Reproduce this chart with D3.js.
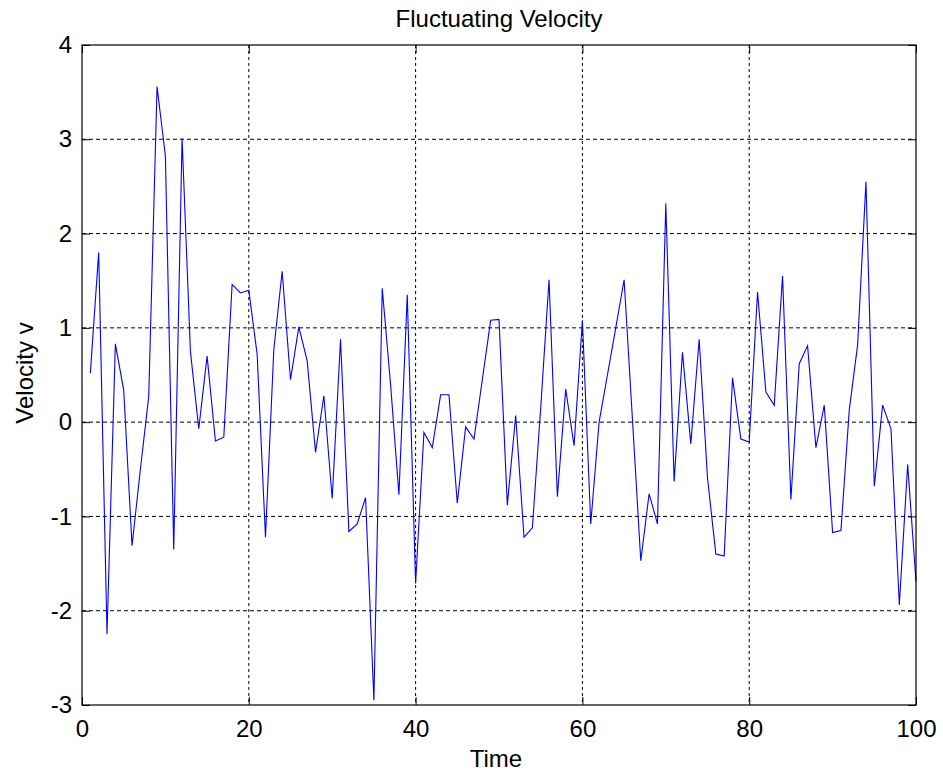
<!DOCTYPE html>
<html>
<head>
<meta charset="utf-8">
<script src="https://cdn.jsdelivr.net/npm/d3@7"></script>
<style>
  html, body { margin: 0; padding: 0; background: #fff; }
  svg text { font-family: Arial, "Liberation Sans", sans-serif; fill: #000; }
</style>
</head>
<body>
<svg id="vis" width="943" height="773"></svg>
<script>
// time samples and the fluctuating velocity
const time = [
  1, 2, 3, 4, 5, 6, 7, 8, 9, 10, 11, 12, 13, 14, 15, 16, 17, 18, 19, 20,
  21, 22, 23, 24, 25, 26, 27, 28, 29, 30, 31, 32, 33, 34, 35, 36, 37, 38, 39, 40,
  41, 42, 43, 44, 45, 46, 47, 48, 49, 50, 51, 52, 53, 54, 55, 56, 57, 58, 59, 60,
  61, 62, 63, 64, 65, 66, 67, 68, 69, 70, 71, 72, 73, 74, 75, 76, 77, 78, 79, 80,
  81, 82, 83, 84, 85, 86, 87, 88, 89, 90, 91, 92, 93, 94, 95, 96, 97, 98, 99, 100
];
const velocity = [
  0.52, 1.80, -2.25, 0.83, 0.34, -1.31, -0.50, 0.27, 3.56, 2.82,
  -1.35, 3.01, 0.75, -0.07, 0.70, -0.20, -0.16, 1.46, 1.37, 1.40,
  0.72, -1.22, 0.77, 1.60, 0.45, 1.01, 0.65, -0.32, 0.28, -0.81,
  0.88, -1.16, -1.08, -0.80, -2.95, 1.42, 0.40, -0.77, 1.35, -1.71,
  -0.11, -0.27, 0.29, 0.29, -0.86, -0.05, -0.18, 0.45, 1.08, 1.09,
  -0.88, 0.07, -1.22, -1.12, 0.15, 1.51, -0.79, 0.35, -0.25, 1.08,
  -1.08, 0.00, 0.50, 1.00, 1.51, 0.03, -1.47, -0.76, -1.08, 2.32,
  -0.63, 0.74, -0.23, 0.88, -0.59, -1.40, -1.42, 0.47, -0.18, -0.21,
  1.38, 0.32, 0.18, 1.55, -0.82, 0.62, 0.81, -0.27, 0.18, -1.17,
  -1.15, 0.13, 0.82, 2.55, -0.68, 0.18, -0.07, -1.94, -0.45, -1.69
];
const xTicks = [0, 20, 40, 60, 80, 100];
const yTicks = [-3, -2, -1, 0, 1, 2, 3, 4];

const vis = d3.select('#vis');
const plotLeft = 82, plotRight = 916, plotTop = 45, plotBottom = 705;

const x = d3.scaleLinear().domain([0, 100]).range([plotLeft, plotRight]);
const y = d3.scaleLinear().domain([-3, 4]).range([plotBottom, plotTop]);

vis.append('rect')
  .attr('width', 943).attr('height', 773)
  .attr('fill', '#fff');

// grid
vis.append('g')
  .selectAll('line')
  .data(xTicks.slice(1, -1))
  .enter().append('line')
    .attr('x1', d => x(d)).attr('x2', d => x(d))
    .attr('y1', plotTop).attr('y2', plotBottom)
    .attr('stroke', '#000')
    .attr('stroke-width', 1)
    .attr('stroke-dasharray', '3,3');

vis.append('g')
  .selectAll('line')
  .data(yTicks.slice(1, -1))
  .enter().append('line')
    .attr('x1', plotLeft).attr('x2', plotRight)
    .attr('y1', d => y(d)).attr('y2', d => y(d))
    .attr('stroke', '#000')
    .attr('stroke-width', 1)
    .attr('stroke-dasharray', '4,3');

// axes with inward ticks, also mirrored on top/right
const tickLen = 8;
const fmt = d => String(d); // plain hyphen minus like the original

const xAxis = vis.append('g')
  .attr('transform', `translate(0,${plotBottom})`)
  .call(d3.axisBottom(x).tickValues(xTicks).tickFormat(fmt).tickSizeInner(-tickLen).tickSizeOuter(0).tickPadding(14));
const yAxis = vis.append('g')
  .attr('transform', `translate(${plotLeft},0)`)
  .call(d3.axisLeft(y).tickValues(yTicks).tickFormat(fmt).tickSizeInner(-tickLen).tickSizeOuter(0).tickPadding(10));
vis.append('g')
  .attr('transform', `translate(0,${plotTop})`)
  .call(d3.axisTop(x).tickValues(xTicks).tickFormat('').tickSizeInner(-tickLen).tickSizeOuter(0));
vis.append('g')
  .attr('transform', `translate(${plotRight},0)`)
  .call(d3.axisRight(y).tickValues(yTicks).tickFormat('').tickSizeInner(-tickLen).tickSizeOuter(0));

vis.selectAll('.domain').remove();
vis.selectAll('.tick line').attr('stroke', '#000');
xAxis.selectAll('text').attr('font-size', 24).attr('font-family', 'Arial, "Liberation Sans", sans-serif');
yAxis.selectAll('text').attr('font-size', 24).attr('font-family', 'Arial, "Liberation Sans", sans-serif');
xAxis.selectAll('text').attr('dy', null).attr('y', 32).attr('dominant-baseline', 'alphabetic');

// the signal
const line = d3.line()
  .x((d, i) => x(time[i]))
  .y(d => y(d));

vis.append('path')
  .datum(velocity)
  .attr('d', line)
  .attr('fill', 'none')
  .attr('stroke', '#0000ff')
  .attr('stroke-width', 1.1)
  .attr('stroke-linejoin', 'miter');

// box
vis.append('rect')
  .attr('x', plotLeft).attr('y', plotTop)
  .attr('width', plotRight - plotLeft).attr('height', plotBottom - plotTop)
  .attr('fill', 'none')
  .attr('stroke', '#000')
  .attr('stroke-width', 1.2);

// labels
vis.append('text')
  .attr('x', (plotLeft + plotRight) / 2)
  .attr('y', 27)
  .attr('text-anchor', 'middle')
  .attr('font-size', 24)
  .text('Fluctuating Velocity');

vis.append('text')
  .attr('x', (plotLeft + plotRight) / 2 - 3)
  .attr('y', 767)
  .attr('text-anchor', 'middle')
  .attr('font-size', 24)
  .text('Time');

vis.append('text')
  .attr('transform', `translate(33,${(plotTop + plotBottom) / 2 - 2}) rotate(-90)`)
  .attr('text-anchor', 'middle')
  .attr('font-size', 24)
  .text('Velocity v');
</script>
</body>
</html>
